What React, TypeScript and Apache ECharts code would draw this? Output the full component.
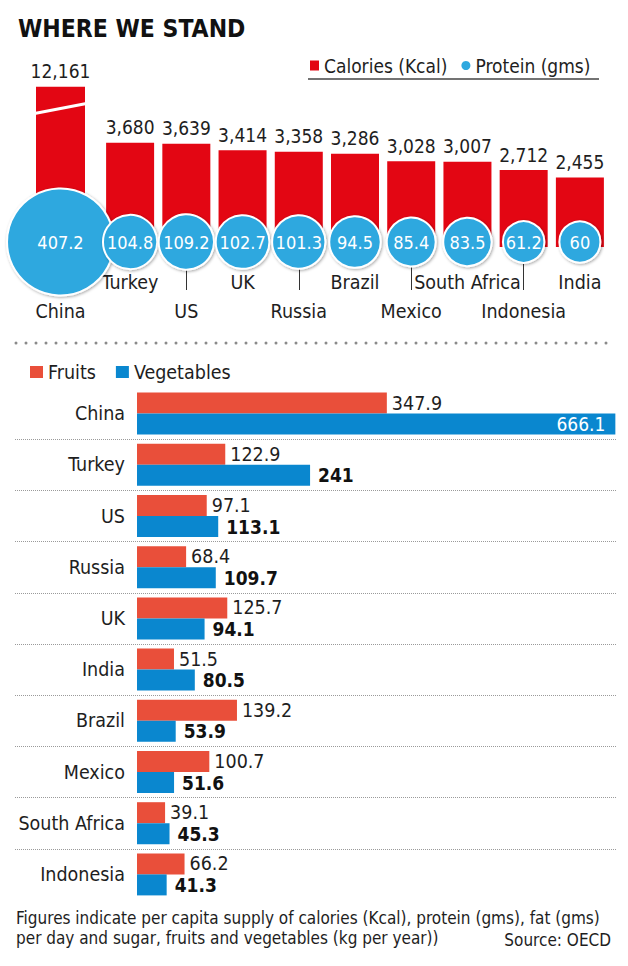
import React, { useEffect, useRef } from 'react';
import * as echarts from 'echarts';

const chinaName = 'China';
const caloriesChina = 12161;
const proteinChina = 407.2;
const topOthers = ['Turkey', 'US', 'UK', 'Russia', 'Brazil', 'Mexico', 'South Africa', 'Indonesia', 'India'];
const caloriesOthers = [3680, 3639, 3414, 3358, 3286, 3028, 3007, 2712, 2455];
const proteinOthers = [104.8, 109.2, 102.7, 101.3, 94.5, 85.4, 83.5, 61.2, 60];

const fvCountries = ['China', 'Turkey', 'US', 'Russia', 'UK', 'India', 'Brazil', 'Mexico', 'South Africa', 'Indonesia'];
const fruits = [347.9, 122.9, 97.1, 68.4, 125.7, 51.5, 139.2, 100.7, 39.1, 66.2];
const vegetables = [666.1, 241, 113.1, 109.7, 94.1, 80.5, 53.9, 51.6, 45.3, 41.3];

const FONT = "'DejaVu Sans Condensed', 'DejaVu Sans', sans-serif";
const RED = '#e30613';
const CIRCLE = '#2ea8df';
const FRUIT = '#e94f3a';
const VEG = '#0a87cf';
const TEXT = '#1e1e1e';

export default function App() {
  const ref = useRef<HTMLDivElement>(null);

  useEffect(() => {
    if (!ref.current) return;
    const chart = echarts.init(ref.current, null, { renderer: 'svg' });

    const circleSize = (v: number[]) => 5.3 * Math.sqrt(v[2]);
    const circleStyle = {
      color: CIRCLE,
      opacity: 1,
      borderColor: '#fff',
      borderWidth: 2,
      shadowBlur: 3,
      shadowColor: 'rgba(0,0,0,0.35)',
      shadowOffsetX: 1,
      shadowOffsetY: 1,
    };
    const circleLabel = {
      show: true,
      position: 'inside' as const,
      color: '#fff',
      fontFamily: FONT,
      fontSize: 18,
      formatter: (p: any) => String(p.value[2]),
    };
    const countryLabel = {
      interval: 0,
      fontFamily: FONT,
      fontSize: 19.5,
      color: TEXT,
      lineHeight: 29,
      margin: 16,
    };
    const calLabel = {
      show: true, position: 'top', distance: 6, color: TEXT, fontFamily: FONT, fontSize: 19,
      formatter: (p: any) => Number(p.value).toLocaleString('en-US'),
    };

    const option: any = {
      animation: false,
      backgroundColor: '#fff',
      textStyle: { fontFamily: FONT },
      grid: [
        { left: 30, width: 61, top: 40, height: 207 },
        { left: 102, width: 506, top: 40, height: 207 },
        { left: 30, width: 61, top: 232, height: 20 },
        { left: 102, width: 506, top: 232, height: 20 },
        { left: 15, width: 601, top: 388, height: 512 },
        { left: 137, width: 479, top: 388, height: 512 },
      ],
      xAxis: [
        { type: 'category', gridIndex: 0, data: [chinaName], show: false },
        { type: 'category', gridIndex: 1, data: topOthers, show: false },
        {
          type: 'category', gridIndex: 2, data: [chinaName],
          axisLine: { show: false }, axisTick: { show: false }, splitLine: { show: false },
          axisLabel: { ...countryLabel, formatter: (v: string) => '\n' + v },
        },
        {
          type: 'category', gridIndex: 3, data: topOthers,
          axisLine: { show: false }, splitLine: { show: false },
          axisTick: {
            show: true, alignWithLabel: true, length: 48,
            interval: (i: number) => i % 2 === 1,
            lineStyle: { color: '#333', width: 1 },
          },
          axisLabel: { ...countryLabel, formatter: (v: string, i: number) => (i % 2 === 1 ? '\n' + v : v) },
        },
        { type: 'value', gridIndex: 4, show: false, min: 0, max: 1 },
        { type: 'value', gridIndex: 5, show: false, min: 0, max: 667 },
      ],
      yAxis: [
        { type: 'value', gridIndex: 0, min: 0, max: 15700, show: false },
        { type: 'value', gridIndex: 1, min: 0, max: 7300, show: false },
        { type: 'value', gridIndex: 2, min: -1, max: 1, show: false },
        { type: 'value', gridIndex: 3, min: -1, max: 1, show: false },
        {
          type: 'category', gridIndex: 4, data: fvCountries, inverse: true,
          axisLabel: { show: false }, axisTick: { show: false }, axisLine: { show: false },
          splitLine: { show: true, showMinLine: false, showMaxLine: false, lineStyle: { color: '#9a9a9a', type: 'dotted', width: 1 } },
        },
        {
          type: 'category', gridIndex: 5, data: fvCountries, inverse: true,
          axisTick: { show: false }, axisLine: { show: false }, splitLine: { show: false },
          axisLabel: { fontFamily: FONT, fontSize: 19.5, color: TEXT, margin: 12 },
        },
      ],
      legend: [
        {
          left: 310, top: 56, padding: 0, itemWidth: 9, itemHeight: 10, itemGap: 14,
          selectedMode: false,
          itemStyle: { borderWidth: 0, shadowBlur: 0 },
          textStyle: { fontFamily: FONT, fontSize: 19, color: TEXT },
          data: [
            { name: 'Calories (Kcal)', icon: 'rect' },
            { name: 'Protein (gms)', icon: 'circle' },
          ],
        },
        {
          left: 30, top: 362, padding: 0, itemWidth: 13, itemHeight: 12, itemGap: 20,
          selectedMode: false,
          textStyle: { fontFamily: FONT, fontSize: 19.5, color: TEXT },
          data: [
            { name: 'Fruits', icon: 'rect' },
            { name: 'Vegetables', icon: 'rect' },
          ],
        },
      ],
      series: [
        {
          type: 'bar', name: 'Calories (Kcal)', xAxisIndex: 0, yAxisIndex: 0,
          data: [caloriesChina], barWidth: 49, itemStyle: { color: RED }, label: calLabel,
        },
        {
          type: 'bar', name: 'Calories (Kcal)', xAxisIndex: 1, yAxisIndex: 1,
          data: caloriesOthers, barWidth: 48, itemStyle: { color: RED }, label: calLabel,
        },
        {
          type: 'scatter', name: 'Protein (gms)', xAxisIndex: 2, yAxisIndex: 2, z: 3,
          data: [[chinaName, 0, proteinChina]], symbolSize: circleSize,
          itemStyle: circleStyle, label: circleLabel,
        },
        {
          type: 'scatter', name: 'Protein (gms)', xAxisIndex: 3, yAxisIndex: 3, z: 4,
          data: topOthers.map((c, i) => [c, 0, proteinOthers[i]]), symbolSize: circleSize,
          itemStyle: circleStyle, label: circleLabel,
        },
        {
          type: 'bar', name: 'Fruits', xAxisIndex: 5, yAxisIndex: 5,
          data: fruits, barWidth: 21, barGap: '0%', itemStyle: { color: FRUIT },
          label: { show: true, position: 'right', distance: 5, color: TEXT, fontFamily: FONT, fontSize: 19.5 },
        },
        {
          type: 'bar', name: 'Vegetables', xAxisIndex: 5, yAxisIndex: 5,
          data: vegetables.map((v, i) =>
            i === 0
              ? { value: v, label: { position: 'insideRight', color: '#fff', fontWeight: 'normal', distance: 10 } }
              : v
          ),
          barWidth: 21, barGap: '0%', itemStyle: { color: VEG },
          label: { show: true, position: 'right', distance: 8, color: '#111', fontWeight: 'bold', fontFamily: FONT, fontSize: 19 },
        },
      ],
      graphic: [
        {
          type: 'text', left: 18, top: 16,
          style: { text: 'WHERE WE STAND', font: `bold 24.5px ${FONT}`, fill: '#111' },
        },
        {
          type: 'line', shape: { x1: 308, y1: 79, x2: 599, y2: 79 },
          style: { stroke: '#444', lineWidth: 1.5 },
        },
        {
          type: 'line', shape: { x1: 16, y1: 343, x2: 607, y2: 343 },
          style: { stroke: '#8a8a8a', lineWidth: 3, lineDash: [0, 10], lineCap: 'round' },
        },
        {
          type: 'text', left: 16, top: 908,
          style: {
            text: 'Figures indicate per capita supply of calories (Kcal), protein (gms), fat (gms)\nper day and sugar, fruits and vegetables (kg per year))',
            font: `17px ${FONT}`, lineHeight: 20, fill: TEXT,
          },
        },
        {
          type: 'text', right: 17, top: 931,
          style: { text: 'Source: OECD', font: `17px ${FONT}`, fill: TEXT },
        },
      ],
    };

    chart.setOption(option);

    // axis-break marker on China's bar
    const c = chart.convertToPixel({ xAxisIndex: 0, yAxisIndex: 0 }, [chinaName, 10500]) as number[];
    if (c) {
      chart.setOption({
        graphic: [
          ...option.graphic,
          {
            type: 'line', z: 10,
            shape: { x1: c[0] - 26, y1: c[1] + 5, x2: c[0] + 26, y2: c[1] - 5 },
            style: { stroke: '#fff', lineWidth: 3 },
          },
        ],
      });
    }

    return () => chart.dispose();
  }, []);

  return (
    <div
      ref={ref}
      style={{ position: 'absolute', left: 0, top: 0, width: 628, height: 966, background: '#fff' }}
    />
  );
}
